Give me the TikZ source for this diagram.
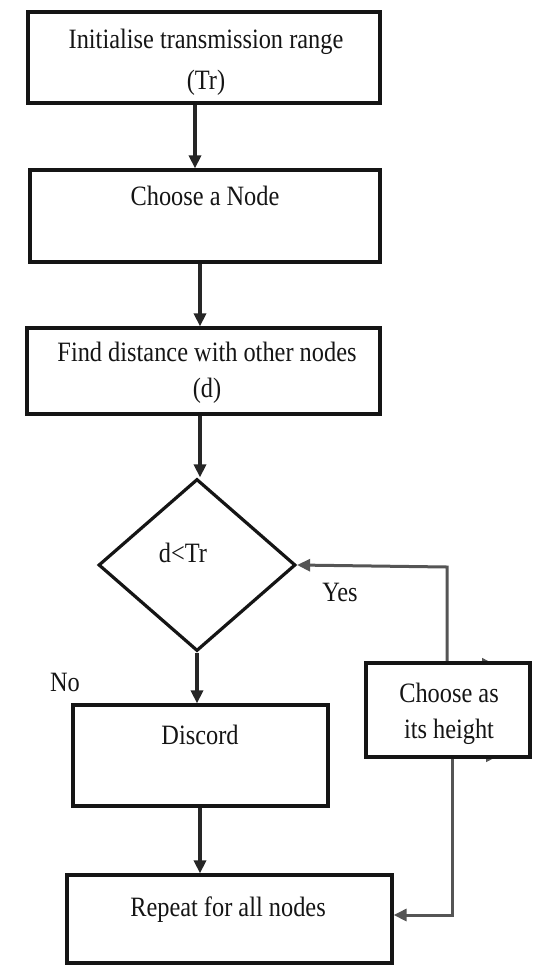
\documentclass[tikz,border=0pt]{standalone}
\usepackage{fontspec}
\setmainfont{Liberation Serif}[FakeStretch=0.87]
\usetikzlibrary{arrows.meta,shapes.geometric,calc}
\definecolor{ink}{HTML}{151515}
\definecolor{flowc}{HTML}{262626}
\definecolor{loopc}{HTML}{555555}
\tikzset{
  box/.style={draw=ink, line width=3.2pt, fill=white, inner sep=0pt},
  txt/.style={inner sep=0pt, font=\fontsize{28}{32}\selectfont, text=ink},
  flow/.style={draw=flowc, line width=4.4pt, -{Triangle[length=13pt,width=12pt]}},
  loop/.style={draw=loopc, line width=3pt, -{Triangle[length=13pt,width=12pt]}},
  tiptick/.style={draw=loopc, line width=1.5pt, -{Triangle[length=10pt,width=10pt]}}
}
\begin{document}
\begin{tikzpicture}[x=1pt,y=-1pt]
  \useasboundingbox (0,0) rectangle (533,967);

  % process boxes (centres and sizes in picture coordinates)
  \node[box, minimum width=352pt, minimum height=91pt] (init) at (204,57.5) {};
  \node[box, minimum width=350pt, minimum height=92pt] (choose) at (205,216) {};
  \node[box, minimum width=353pt, minimum height=86pt] (dist) at (203.5,371) {};
  \node[draw=ink, line width=3.2pt, fill=white, diamond, inner sep=0pt,
        minimum width=197pt, minimum height=172pt] (test) at (197,565) {};
  \node[box, minimum width=255pt, minimum height=101pt] (discard) at (200.5,755.5) {};
  \node[box, minimum width=325pt, minimum height=88pt] (repeat) at (229.5,919) {};

  % loop-back connectors from the side box
  \coordinate (up) at (447,567);
  \coordinate (down) at (452,915);
  \draw[loop] (447,663) -- (up) -- (test.east);
  \draw[loop] (452,757) -- (down) -- (down -| repeat.east);
  \draw[tiptick] (474,663) -- (492,663);
  \draw[tiptick] (478,757) -- (496,757);
  \node[box, minimum width=164pt, minimum height=94pt] (height) at (448,710) {};

  % main flow
  \draw[flow] ([xshift=-9pt]init.south) -- ([xshift=-9pt]init.south |- choose.north);
  \draw[flow] ([xshift=-5pt]choose.south) -- ([xshift=-5pt]choose.south |- dist.north);
  \draw[flow] ([xshift=-3.5pt]dist.south) -- ([xshift=-3.5pt]dist.south |- test.north);
  \draw[flow] (test.south) -- (test.south |- discard.north);
  \draw[flow] ([xshift=-0.5pt]discard.south) -- ([xshift=-0.5pt]discard.south |- repeat.north);

  % texts
  \node[txt] (t1a) at (206,42) {Initialise transmission range};
  \node[txt] (t1b) at (206,83) {(Tr)};
  \node[txt] (t2) at (205,196) {Choose a Node};
  \node[txt] (t3a) at (207,352) {Find distance with other nodes};
  \node[txt] (t3b) at (207,391) {(d)};
  \node[txt] (t4) at (183,553) {d<Tr};
  \node[txt] (yes) at (340,592) {Yes};
  \node[txt] (no) at (65,682) {No};
  \node[txt] (t5) at (200,735) {Discord};
  \node[txt] (t6a) at (449,693) {Choose as};
  \node[txt] (t6b) at (449,732) {its height};
  \node[txt] (t7) at (228,910) {Repeat for all nodes};
\end{tikzpicture}
\end{document}
